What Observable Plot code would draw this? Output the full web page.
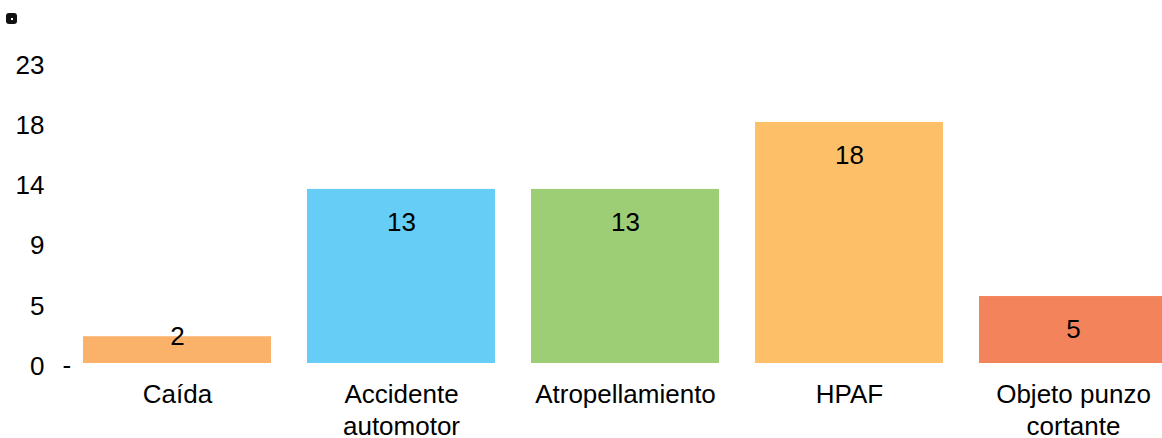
<!DOCTYPE html>
<html>
<head>
<meta charset="utf-8">
<script src="https://cdn.jsdelivr.net/npm/d3@7"></script>
<script src="https://cdn.jsdelivr.net/npm/@observablehq/plot@0.6"></script>
<style>
  html, body { margin: 0; padding: 0; background: #fff; overflow: hidden; }
  #wrap { position: relative; width: 1162px; height: 438px; overflow: hidden; }
  #badge { position: absolute; left: 6px; top: 13px; width: 11px; height: 11px; background: #111; border-radius: 3px; }
  #badge::after { content: ""; position: absolute; left: 4.5px; top: 4.5px; width: 2px; height: 2px; background: #fff; }
</style>
</head>
<body>
<div id="wrap"><div id="badge"></div></div>
<script>
const categories = ["Caída", "Accidente\nautomotor", "Atropellamiento", "HPAF", "Objeto punzo\ncortante"];
const values = [2, 13, 13, 18, 5];
const colors = ["#FAB26B", "#66CDF6", "#9DCD74", "#FDC069", "#F3835B"];
const yTicks = [0, 4.5, 9, 13.5, 18, 22.5];

const data = categories.map((c, i) => ({category: c, value: values[i], color: colors[i]}));
const font = "Liberation Sans, Arial, sans-serif";
const fs = 26;

const chart = Plot.plot({
  width: 1162,
  height: 438,
  marginTop: 55,
  marginBottom: 75,
  marginLeft: 64,
  marginRight: 0,
  style: {fontFamily: font, fontSize: fs + "px", color: "#000", background: "#fff", overflow: "hidden"},
  x: {domain: categories, range: [45, 1204], padding: 0.1626, axis: null},
  y: {domain: [0, 23], axis: null},
  color: {type: "identity"},
  marks: [
    Plot.barY(data, {x: "category", y: "value", fill: "color"}),
    Plot.text(yTicks, {y: d => d, text: d => String(Math.round(d)), frameAnchor: "left", textAnchor: "end", dx: -20, dy: 3, fontSize: fs, fill: "#000"}),
    Plot.text([0], {y: d => d, text: () => "-", frameAnchor: "left", textAnchor: "start", dx: -2, dy: 2, fontSize: fs, fill: "#000"}),
    Plot.text(data.filter(d => d.value > 3), {x: "category", y: "value", text: d => String(d.value), dy: 33, fontSize: fs, fill: "#000"}),
    Plot.text(data.filter(d => d.value <= 3), {x: "category", y: "value", text: d => String(d.value), dy: 0, fontSize: fs, fill: "#000"}),
    Plot.text(data, {x: "category", y: 0, text: "category", lineAnchor: "top", dy: 17, lineHeight: 1.23, fontSize: fs, fill: "#000"})
  ]
});
document.getElementById("wrap").prepend(chart);
</script>
</body>
</html>
